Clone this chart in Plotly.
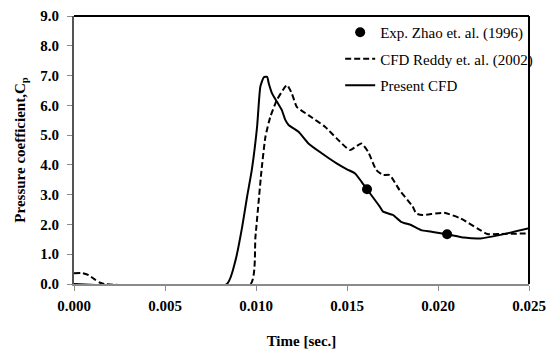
import plotly.graph_objects as go

# Present CFD
present_t = [0.0, 0.0084, 0.00888, 0.00924, 0.00951, 0.00977, 0.01006, 0.01024, 0.01043, 0.01061,
             0.0107, 0.01088, 0.01115, 0.01142, 0.01161, 0.01179, 0.01234, 0.01288, 0.01361, 0.01443,
             0.0150, 0.01543, 0.01579, 0.0161, 0.0168, 0.01698, 0.01752, 0.01797, 0.01852, 0.01907,
             0.01961, 0.02052, 0.02143, 0.02234, 0.02343, 0.025]
present_cp = [0.0, 0.0, 0.81, 1.92, 2.93, 3.83, 5.28, 6.63, 6.94, 6.96,
              6.74, 6.40, 6.12, 5.84, 5.51, 5.34, 5.11, 4.72, 4.39, 4.05,
              3.85, 3.72, 3.44, 3.18, 2.60, 2.43, 2.32, 2.09, 1.98, 1.81,
              1.76, 1.67, 1.56, 1.53, 1.65, 1.87]

# CFD Reddy et al. (2002)
reddy_t = [0.0, 0.0004, 0.0008, 0.0011, 0.0014, 0.0017, 0.0097, 0.00997, 0.0103, 0.01052,
           0.01079, 0.01115, 0.0117, 0.01197, 0.01224, 0.01288, 0.01379, 0.01443, 0.01516, 0.01579,
           0.01616, 0.01661, 0.01698, 0.01734, 0.01788, 0.01861, 0.0188, 0.01916, 0.02034, 0.02125,
           0.02216, 0.02271, 0.02343, 0.025]
reddy_cp = [0.36, 0.37, 0.30, 0.17, 0.05, 0.0, 0.0, 1.59, 3.80, 4.95,
            5.62, 6.18, 6.68, 6.40, 5.95, 5.67, 5.28, 4.89, 4.50, 4.72,
            4.44, 3.83, 3.66, 3.66, 3.16, 2.60, 2.37, 2.32, 2.39, 2.20,
            1.87, 1.68, 1.68, 1.70]

# Experiment Zhao et al. (1996)
exp_t = [0.0161, 0.0205]
exp_cp = [3.18, 1.67]

x_ticks = [0, 0.005, 0.01, 0.015, 0.02, 0.025]
y_ticks = [0, 1, 2, 3, 4, 5, 6, 7, 8, 9]

serif = "Liberation Serif"
FS = 15

fig = go.Figure()
fig.add_trace(go.Scatter(x=exp_t, y=exp_cp, mode="markers", name="Exp. Zhao et. al. (1996)",
                         legendgroup="a",
                         marker=dict(color="black", size=10, symbol="circle")))
fig.add_trace(go.Scatter(x=reddy_t, y=reddy_cp, mode="lines", name="CFD Reddy et. al. (2002)",
                         legendgroup="b",
                         line=dict(color="black", width=2, dash="6px,3px", shape="spline", smoothing=0.5)))
fig.add_trace(go.Scatter(x=present_t, y=present_cp, mode="lines", name="Present CFD",
                         legendgroup="c",
                         line=dict(color="black", width=2, shape="spline", smoothing=0.5)))

# top and right border
fig.add_shape(type="line", xref="paper", yref="paper", x0=0, x1=1, y0=1, y1=1,
              line=dict(color="black", width=2))
fig.add_shape(type="line", xref="paper", yref="paper", x0=1, x1=1, y0=0, y1=1,
              line=dict(color="black", width=2))

fig.update_layout(
    width=550, height=349,
    margin=dict(l=74, r=18, t=16, b=65),
    plot_bgcolor="white", paper_bgcolor="white",
    font=dict(family=serif, color="black"),
    showlegend=True,
    legend=dict(x=0.585, y=1.0, xanchor="left", yanchor="top",
                font=dict(family=serif, size=FS, color="black"),
                bgcolor="rgba(0,0,0,0)", tracegroupgap=4, itemwidth=30),
    xaxis=dict(range=[0, 0.025], tickvals=x_ticks, automargin=False,
               tickformat=".3f", showgrid=False, zeroline=False,
               showline=True, linecolor="#8a8a8a", linewidth=2,
               ticks="outside", ticklen=5, tickcolor="#8a8a8a", tickwidth=1,
               ticklabelstandoff=2,
               tickfont=dict(family=serif, size=FS, color="black", weight="bold"),
               title=dict(text="Time [sec.]", font=dict(family=serif, size=FS, color="black", weight="bold"),
                          standoff=26)),
    yaxis=dict(range=[0, 9], tickvals=y_ticks, automargin=False,
               tickformat=".1f", showgrid=False, zeroline=False,
               showline=True, linecolor="#555555", linewidth=2,
               ticks="outside", ticklen=5, tickcolor="#8a8a8a", tickwidth=1,
               ticklabelstandoff=5,
               tickfont=dict(family=serif, size=FS, color="black", weight="bold"),
               title=dict(text="Pressure coefficient,C<sub>p</sub>",
                          font=dict(family=serif, size=FS, color="black", weight="bold"),
                          standoff=11)),
)

fig.write_html("out.html")
